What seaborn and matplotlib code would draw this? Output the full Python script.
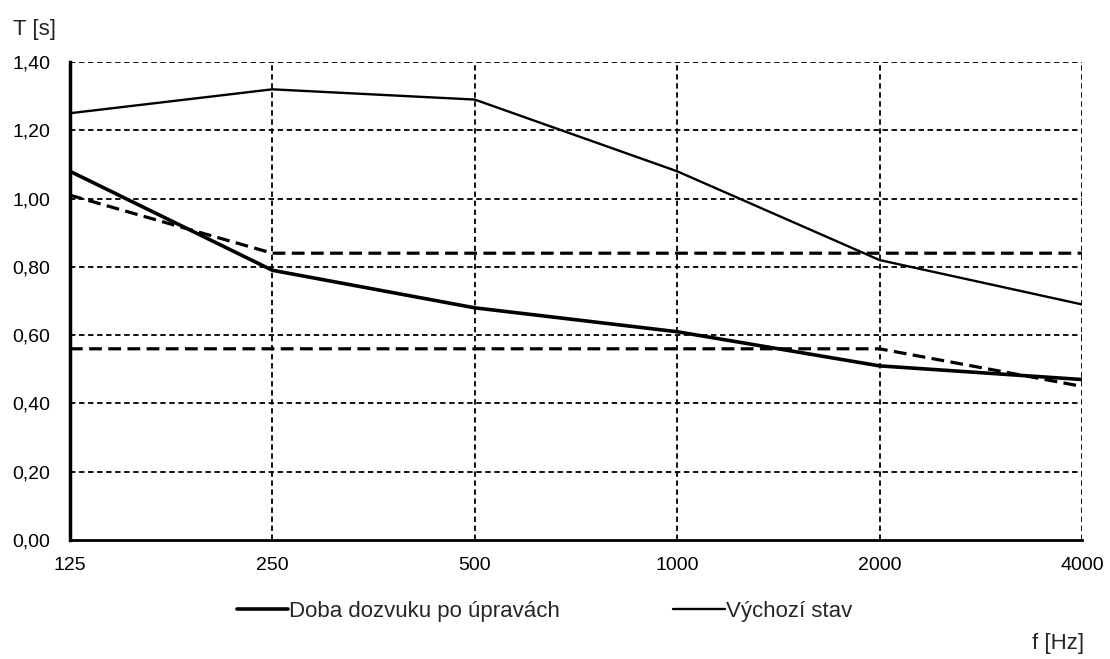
import warnings
import numpy as np
import pandas as pd

import matplotlib
matplotlib.use('Agg')
import matplotlib.pyplot as plt
from matplotlib.ticker import MultipleLocator, FuncFormatter
import seaborn as sns

warnings.filterwarnings('ignore')

# data
freqs = ['125', '250', '500', '1000', '2000', '4000']
doba_po_upravach = [1.08, 0.79, 0.68, 0.61, 0.51, 0.47]
vychozi_stav = [1.25, 1.32, 1.29, 1.08, 0.82, 0.69]
horni_mez = [1.01, 0.84, 0.84, 0.84, 0.84, 0.84]
dolni_mez = [0.56, 0.56, 0.56, 0.56, 0.56, 0.45]

series_names = ['Doba dozvuku po úpravách', 'Výchozí stav']

sns.set_style('white')
plt.rcParams['font.family'] = ['Liberation Sans', 'DejaVu Sans']

pos = np.arange(len(freqs))
df = pd.DataFrame({
    'pos': np.concatenate([pos, pos]),
    'T': doba_po_upravach + vychozi_stav,
    'Série': [series_names[0]] * len(freqs) + [series_names[1]] * len(freqs),
})
limits = pd.DataFrame({
    'pos': np.concatenate([pos, pos]),
    'T': horni_mez + dolni_mez,
    'mez': ['horni'] * len(freqs) + ['dolni'] * len(freqs),
})

fig = plt.figure(figsize=(11.1, 6.59), dpi=100)
ax = fig.add_axes([0.063, 0.1806, 0.9117, 0.7253])

# grid
for p in pos:
    ax.axvline(p, color='black', linestyle=(0, (3, 2)), linewidth=1.3, zorder=1)
for yv in np.arange(0.2, 1.41, 0.2):
    ax.axhline(yv, color='black', linestyle=(0, (3, 2)), linewidth=1.3, zorder=1)

sns.lineplot(data=limits, x='pos', y='T', units='mez', estimator=None,
             color='black', linewidth=2.3, linestyle=(0, (4, 2)),
             legend=False, ax=ax, zorder=3)
sns.lineplot(data=df, x='pos', y='T', hue='Série', size='Série',
             hue_order=series_names, palette=['black', 'black'],
             sizes={series_names[0]: 2.6, series_names[1]: 1.7},
             ax=ax, zorder=4)

ax.set_xlim(0, len(freqs) - 1)
ax.set_ylim(0, 1.40)
ax.set_xticks(pos)
ax.set_xticklabels(freqs)
ax.yaxis.set_major_locator(MultipleLocator(0.2))
ax.yaxis.set_minor_locator(MultipleLocator(0.05))
ax.yaxis.set_major_formatter(FuncFormatter(lambda v, _: f'{v:.2f}'.replace('.', ',')))
ax.tick_params(axis='both', labelsize=14, colors='black')
ax.tick_params(axis='y', which='major', length=4, width=1.5, direction='out', pad=10)
ax.tick_params(axis='y', which='minor', length=3, width=1.5, direction='out')
ax.tick_params(axis='x', length=3, width=1.5, direction='out', pad=9)
ax.set_xlabel('')
ax.set_ylabel('')

for side in ['top', 'right']:
    ax.spines[side].set_visible(False)
ax.spines['left'].set_linewidth(2.5)
ax.spines['bottom'].set_linewidth(2.0)
ax.spines['left'].set_color('black')
ax.spines['bottom'].set_color('black')

handles, labels = ax.get_legend_handles_labels()
ax.get_legend().remove()
fig.legend(handles, labels, loc='center left', bbox_to_anchor=(237 / 1110, 1 - 611 / 659),
           ncol=2, frameon=False, fontsize=16, handlelength=2.3,
           handletextpad=0.05, columnspacing=5.1, borderpad=0, borderaxespad=0)

fig.text(0.012, 1 - 29 / 659, 'T [s]', fontsize=16, ha='left', va='center')
fig.text(1084 / 1110, 1 - 643 / 659, 'f [Hz]', fontsize=16, ha='right', va='center')

plt.savefig('out.png', dpi=100)
